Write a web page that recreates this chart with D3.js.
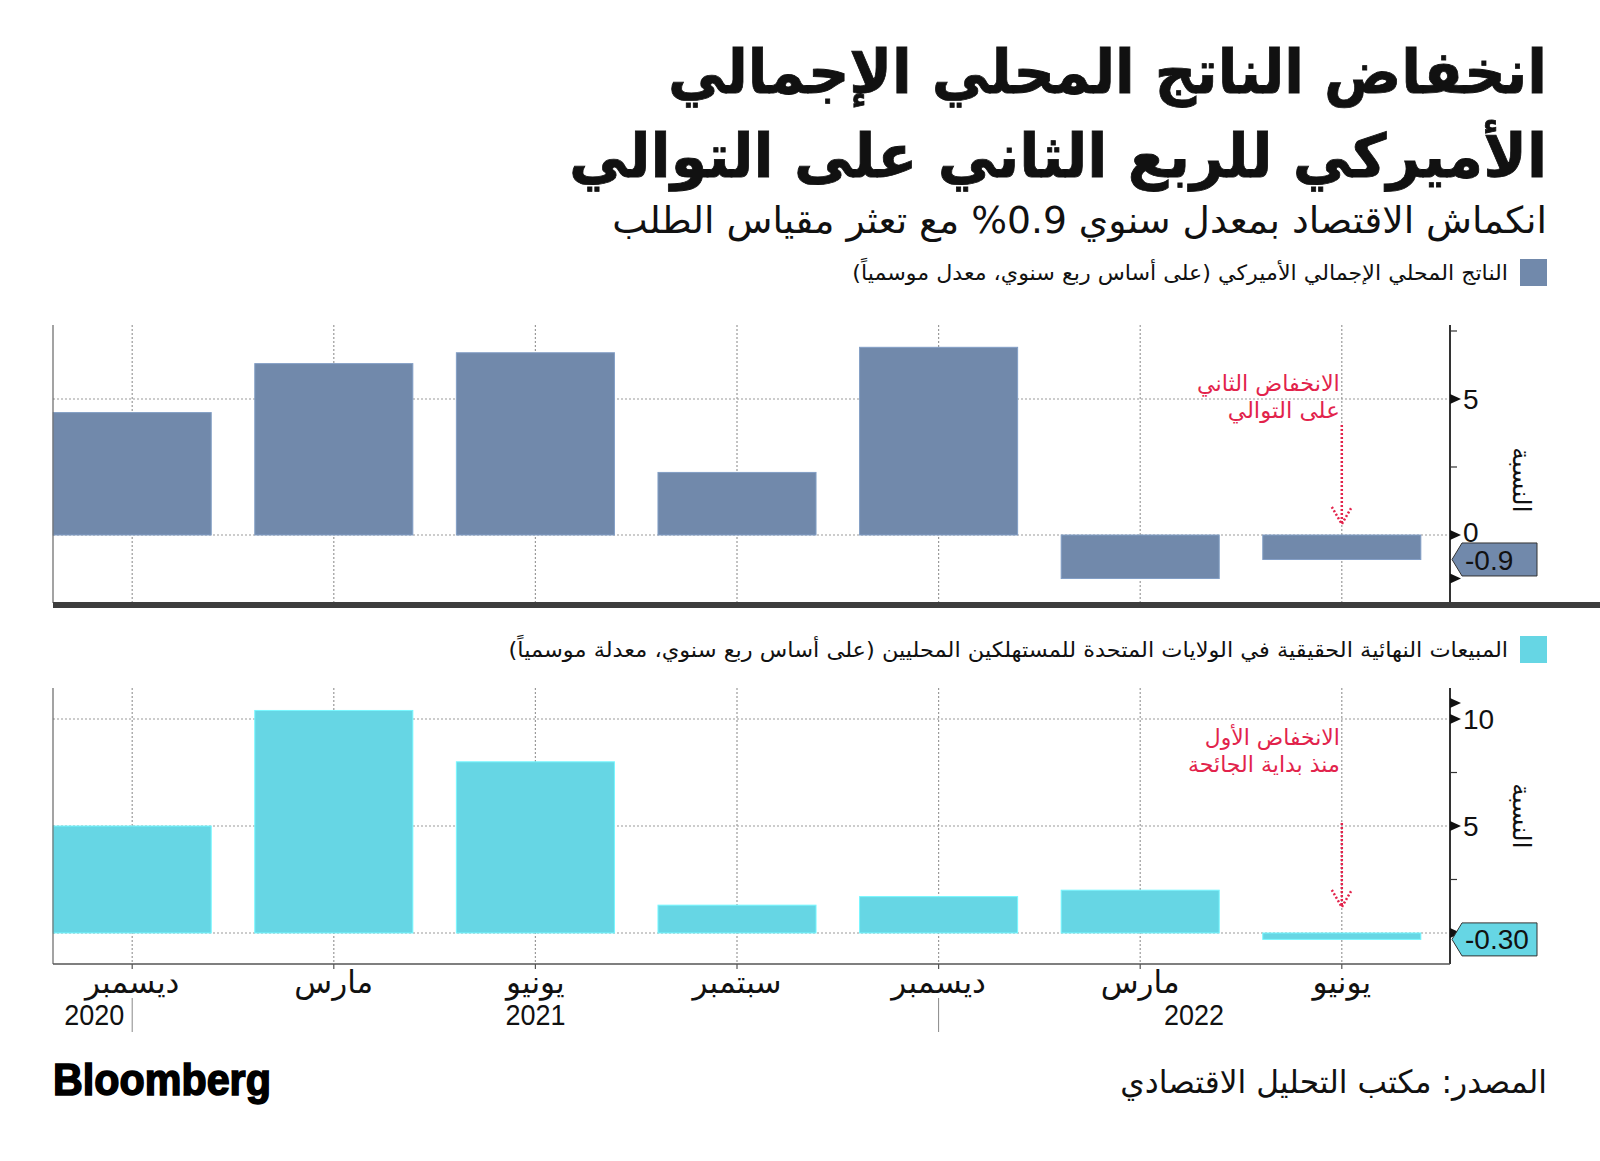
<!DOCTYPE html>
<html><head><meta charset="utf-8">
<script src="https://cdn.jsdelivr.net/npm/d3@7"></script>
<style>body{margin:0;background:#fff} svg{display:block}</style>
</head><body>
<svg id="c" width="1600" height="1161"></svg>
<script>
// ---- data ----
const quarters = ["2020-Q4","2021-Q1","2021-Q2","2021-Q3","2021-Q4","2022-Q1","2022-Q2"];
const monthLabels = ["ديسمبر","مارس","يونيو","سبتمبر","ديسمبر","مارس","يونيو"];
const gdpValues = [4.5, 6.3, 6.7, 2.3, 6.9, -1.6, -0.9];
const salesValues = [5.0, 10.4, 8.0, 1.3, 1.7, 2.0, -0.3];
const gdpTicks = [0, 5];
const gdpMinorTicks = [2.5, 7.5];
const gdpMarkers = [-1.6];
const salesTicks = [0, 5, 10];
const salesMinorTicks = [2.5, 7.5];
const salesMarkers = [10.75];
const yearLabels = ["2020", "2021", "2022"];
const gdpFlag = "-0.9";
const salesFlag = "-0.30";

const titleLines = ["انخفاض الناتج المحلي الإجمالي", "الأميركي للربع الثاني على التوالي"];
const subtitle = "انكماش الاقتصاد بمعدل سنوي 0.9% مع تعثر مقياس الطلب";
const legend1 = "الناتج المحلي الإجمالي الأميركي (على أساس ربع سنوي، معدل موسمياً)";
const legend2 = "المبيعات النهائية الحقيقية في الولايات المتحدة للمستهلكين المحليين (على أساس ربع سنوي، معدلة موسمياً)";
const yTitle = "النسبة";
const callout1 = ["الانخفاض الثاني", "على التوالي"];
const callout2 = ["الانخفاض الأول", "منذ بداية الجائحة"];
const source = "المصدر: مكتب التحليل الاقتصادي";

// ---- setup ----
const svg = d3.select("#c");
const AR = "'DejaVu Sans', 'Noto Sans', sans-serif";
const NUM = "'Liberation Sans', Arial, sans-serif";
const C_GDP = "#7189ab", C_SALES = "#66d6e4", C_RED = "#e2234b";
const AXIS_X = 1450, LEFT = 53;

const x = d3.scaleBand().domain(quarters).range([31.4, 1442.6]).paddingInner(0.216).paddingOuter(0.108);
const cx = q => x(q) + x.bandwidth() / 2;

// fitted text: anchored at right edge (rtl) or left edge (ltr), scaled to width
function fitText(str, ax, ay, width, size, opts = {}) {
  const rtl = opts.rtl !== false;
  const g = svg.append("g");
  const t = g.append("text")
    .attr("x", 0).attr("y", 0)
    .attr("direction", rtl ? "rtl" : "ltr")
    .attr("text-anchor", "start")
    .attr("font-family", opts.font || AR)
    .attr("font-size", size)
    .attr("font-weight", opts.weight || "normal")
    .attr("fill", opts.fill || "#111")
    .text(str);
  if (opts.stroke) t.attr("stroke", opts.fill || "#111").attr("stroke-width", opts.stroke);
  const w = t.node().getComputedTextLength();
  const s = width ? width / w : 1;
  g.attr("transform", `translate(${ax},${ay}) scale(${s},1)`);
  return t;
}

// ---- header ----
fitText(titleLines[0], 1547, 93, 879, 60, {weight: "bold", stroke: 0.8});
fitText(titleLines[1], 1547, 177, 978, 60, {weight: "bold", stroke: 0.8});
fitText(subtitle, 1547, 233, 935, 37);

function legend(y, color, label, width) {
  svg.append("rect").attr("x", 1520).attr("y", y).attr("width", 27).attr("height", 27).attr("fill", color);
  fitText(label, 1508, y + 21, width, 21);
}
legend(259, C_GDP, legend1, 656);
legend(636, C_SALES, legend2, 1000);

// ---- panels ----
function panel(cfg) {
  const y = d3.scaleLinear().domain(cfg.domain).range([cfg.bottom, cfg.top]);
  const g = svg.append("g");
  // vertical grid
  g.selectAll(".vg").data(quarters).join("line")
    .attr("x1", cx).attr("x2", cx).attr("y1", cfg.top).attr("y2", cfg.bottom)
    .attr("stroke", "#9a9a9a").attr("stroke-width", 1.2).attr("stroke-dasharray", "2,2");
  // horizontal grid
  g.selectAll(".hg").data(cfg.ticks).join("line")
    .attr("x1", LEFT).attr("x2", AXIS_X).attr("y1", d => y(d)).attr("y2", d => y(d))
    .attr("stroke", "#9a9a9a").attr("stroke-width", 1.2).attr("stroke-dasharray", "2,2");
  // bars
  g.selectAll(".bar").data(cfg.values).join("rect")
    .attr("x", (d, i) => x(quarters[i])).attr("width", x.bandwidth())
    .attr("y", d => y(Math.max(0, d))).attr("height", d => Math.abs(y(d) - y(0)))
    .attr("fill", cfg.color).attr("stroke", d3.color(cfg.color).brighter(0.4)).attr("stroke-width", 1);
  // left frame
  g.append("line").attr("x1", LEFT).attr("x2", LEFT).attr("y1", cfg.top).attr("y2", cfg.bottom)
    .attr("stroke", "#666").attr("stroke-width", 1.2);
  // right axis
  g.append("line").attr("x1", AXIS_X).attr("x2", AXIS_X).attr("y1", cfg.top).attr("y2", cfg.bottom)
    .attr("stroke", "#333").attr("stroke-width", 2);
  g.selectAll(".mt").data(cfg.minor).join("line")
    .attr("x1", AXIS_X).attr("x2", AXIS_X + 7).attr("y1", d => y(d)).attr("y2", d => y(d))
    .attr("stroke", "#333").attr("stroke-width", 1.2);
  g.selectAll(".tri").data(cfg.ticks.concat(cfg.markers)).join("path")
    .attr("d", d => `M${AXIS_X},${y(d) - 5}L${AXIS_X + 11},${y(d)}L${AXIS_X},${y(d) + 5}Z`)
    .attr("fill", "#111");
  g.selectAll(".tl").data(cfg.ticks.filter(d => d !== 0 || cfg.showZero)).join("text")
    .attr("x", AXIS_X + 13).attr("y", d => y(d) - (d === 0 ? 3 : 0)).attr("dy", "0.36em")
    .attr("font-family", NUM).attr("font-size", 28).attr("fill", "#111")
    .text(d => d);
  // flag
  const fy = y(cfg.values[cfg.values.length - 1]);
  g.append("path")
    .attr("d", `M${AXIS_X + 2},${fy}L${AXIS_X + 12},${fy - 16.5}L${AXIS_X + 87},${fy - 16.5}L${AXIS_X + 87},${fy + 16.5}L${AXIS_X + 12},${fy + 16.5}Z`)
    .attr("fill", cfg.color).attr("stroke", "#333").attr("stroke-width", 1);
  g.append("text").attr("x", AXIS_X + 15).attr("y", fy).attr("dy", "0.36em")
    .attr("font-family", NUM).attr("font-size", 28).attr("fill", "#111").text(cfg.flag);
  // y title
  g.append("text").attr("transform", `translate(1521,${cfg.titleY}) rotate(90)`)
    .attr("text-anchor", "middle").attr("dominant-baseline", "central")
    .attr("font-family", AR).attr("font-size", 25).attr("fill", "#111").text(yTitle);
  // callout
  const ax = cx(quarters[quarters.length - 1]);
  cfg.callout.forEach((s, i) => {
    fitText(s, ax - 2, cfg.calloutY + i * 27, cfg.calloutW[i], 22, {fill: C_RED});
  });
  g.append("line").attr("x1", ax).attr("x2", ax).attr("y1", cfg.arrow[0]).attr("y2", cfg.arrow[1])
    .attr("stroke", C_RED).attr("stroke-width", 2.5).attr("stroke-dasharray", "2,2");
  g.append("path").attr("d", `M${ax - 10},${cfg.arrow[1] - 17}L${ax},${cfg.arrow[1]}L${ax + 10},${cfg.arrow[1] - 17}`)
    .attr("fill", "none").attr("stroke", C_RED).attr("stroke-width", 2.5).attr("stroke-dasharray", "2,2");
  return y;
}

panel({domain: [-2.5, 7.72], top: 325, bottom: 603, values: gdpValues, color: C_GDP,
  ticks: gdpTicks, minor: gdpMinorTicks, markers: gdpMarkers, flag: gdpFlag, showZero: true,
  titleY: 480, callout: callout1, calloutW: [143, 112], calloutY: 391, arrow: [425, 524]});

const yS = panel({domain: [-1.45, 11.45], top: 688, bottom: 964, values: salesValues, color: C_SALES,
  ticks: salesTicks, minor: salesMinorTicks, markers: salesMarkers, flag: salesFlag, showZero: false,
  titleY: 816, callout: callout2, calloutW: [135, 152], calloutY: 745, arrow: [823, 907]});

// separator between panels
svg.append("rect").attr("x", LEFT).attr("y", 602).attr("width", 1600 - LEFT).attr("height", 6).attr("fill", "#3d3d3d");

// bottom x axis
svg.append("line").attr("x1", LEFT).attr("x2", AXIS_X).attr("y1", 964).attr("y2", 964)
  .attr("stroke", "#555").attr("stroke-width", 1.5);
svg.selectAll(".xt").data(quarters).join("line")
  .attr("x1", cx).attr("x2", cx).attr("y1", 964).attr("y2", 969)
  .attr("stroke", "#555").attr("stroke-width", 1.2);
svg.selectAll(".xl").data(quarters).join("text")
  .attr("x", cx).attr("y", 993).attr("text-anchor", "middle")
  .attr("font-family", AR).attr("font-size", 31).attr("fill", "#111")
  .text((d, i) => monthLabels[i]);
// year separators (at December quarters)
svg.selectAll(".ys").data([quarters[0], quarters[4]]).join("line")
  .attr("x1", cx).attr("x2", cx).attr("y1", 998).attr("y2", 1032)
  .attr("stroke", "#888").attr("stroke-width", 1);
const yearPos = [
  {t: yearLabels[0], x: cx(quarters[0]) - 8, a: "end"},
  {t: yearLabels[1], x: cx(quarters[2]), a: "middle"},
  {t: yearLabels[2], x: (cx(quarters[5]) + cx(quarters[6])) / 2 - 47, a: "middle"}
];
svg.selectAll(".yl").data(yearPos).join("text")
  .attr("x", d => d.x).attr("y", 1025).attr("text-anchor", d => d.a)
  .attr("font-family", NUM).attr("font-size", 30).attr("fill", "#111")
  .attr("textLength", 60).attr("lengthAdjust", "spacingAndGlyphs")
  .text(d => d.t);

// footer
fitText(source, 1547, 1093, 427, 32);
fitText("Bloomberg", 53, 1095, 218, 44, {rtl: false, font: "'Liberation Sans', Arial, sans-serif", weight: "bold", fill: "#000", stroke: 1.6});
</script>
</body></html>
